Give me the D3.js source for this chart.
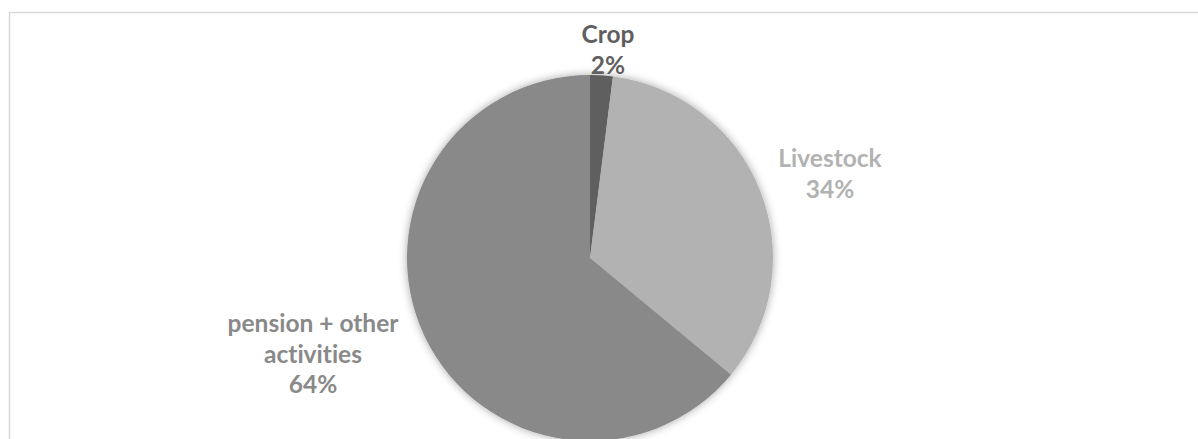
<!DOCTYPE html>
<html>
<head>
<meta charset="utf-8">
<script src="https://cdn.jsdelivr.net/npm/d3@7"></script>
<style>
  html, body { margin: 0; padding: 0; background: #fff; }
  svg { display: block; }
  text { font-variant-ligatures: none; font-feature-settings: "liga" 0; }
</style>
</head>
<body>
<svg id="chart" width="1198" height="439"></svg>
<script>
const categories = ["Crop", "Livestock", "pension + other activities"];
const values = [2, 34, 64];
const labelLines = [["Crop", "2%"], ["Livestock", "34%"], ["pension + other", "activities", "64%"]];
const colors = ["#5f5f5f", "#b2b2b2", "#898989"];

const width = 1198, height = 439;
const svg = d3.select("#chart");

// outer frame
svg.append("rect")
  .attr("x", 9.5).attr("y", 12.5)
  .attr("width", 1300).attr("height", 600)
  .attr("fill", "#fff")
  .attr("stroke", "#d9d9d9").attr("stroke-width", 1.5);

const defs = svg.append("defs");
const f = defs.append("filter").attr("id", "shadow")
  .attr("x", "-20%").attr("y", "-20%").attr("width", "140%").attr("height", "140%");
f.append("feDropShadow").attr("dx", 0).attr("dy", 0).attr("stdDeviation", 4)
  .attr("flood-color", "#000").attr("flood-opacity", 0.35);

const cx = 590, cy = 258, r = 183;
const data = categories.map((c, i) => ({ name: c, value: values[i], color: colors[i], lines: labelLines[i] }));

const pie = d3.pie().value(d => d.value).sort(null);
const arc = d3.arc().innerRadius(0).outerRadius(r);
const arcs = pie(data);

const g = svg.append("g").attr("transform", `translate(${cx},${cy})`);
g.append("g").attr("filter", "url(#shadow)")
  .selectAll("path").data(arcs).join("path")
  .attr("d", arc)
  .attr("fill", d => d.data.color);

const lineH = 30.5;
const labels = svg.append("g")
  .attr("font-family", "Lato, 'Open Sans', sans-serif")
  .attr("font-weight", "bold")
  .attr("font-size", 24.5)
  .attr("text-anchor", "middle");

// label block anchors (centre x, first baseline y)
const anchors = [[608, 43], [830, 167], [313, 332]];
data.forEach((d, i) => {
  const t = labels.append("text").attr("fill", d.color);
  d.lines.forEach((ln, j) => {
    t.append("tspan").attr("x", anchors[i][0]).attr("y", anchors[i][1] + j * lineH).text(ln);
  });
});
</script>
</body>
</html>
